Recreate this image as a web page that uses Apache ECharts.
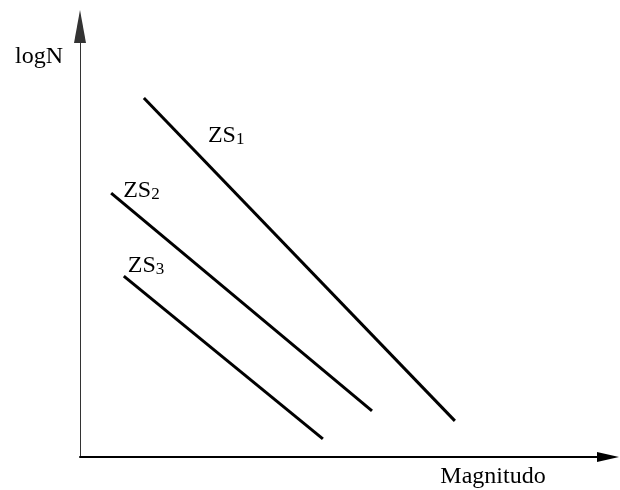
<!DOCTYPE html>
<html>
<head>
<meta charset="utf-8">
<script src="https://cdn.jsdelivr.net/npm/echarts@6/dist/echarts.min.js"></script>
<style>
  html, body { margin: 0; padding: 0; background: #fff; }
  #chart { width: 620px; height: 490px; }
</style>
</head>
<body>
<div id="chart"></div>
<script>
// Gutenberg–Richter style lines for three seismic source zones
const zoneNames = ['ZS', 'ZS', 'ZS'];
const zoneIndex = ['1', '2', '3'];
// [magnitude, logN] at the start and end of each zone line
const zs1 = [[1.21, 8.34], [7.10, 0.84]];
const zs2 = [[0.59, 6.13], [5.53, 1.07]];
const zs3 = [[0.83, 4.20], [4.60, 0.42]];
const axisTitles = { x: 'Magnitudo', y: 'logN' };

const FONT = '"Liberation Serif", "Times New Roman", serif';
const labelOffsets = [[64, 38], [12, -2], [4, -10]];

function zoneSeries(points, i) {
  return {
    type: 'line',
    silent: true,
    symbol: 'circle',
    symbolSize: 0,
    lineStyle: { color: '#000', width: 3, cap: 'butt' },
    itemStyle: { color: '#000' },
    data: points.map((p, k) => ({
      value: p,
      label: k === 0 ? {
        show: true,
        position: labelOffsets[i],
        align: 'left',
        verticalAlign: 'middle',
        formatter: '{a|' + zoneNames[i] + '}{b|' + zoneIndex[i] + '}',
        rich: {
          a: { fontFamily: FONT, fontSize: 24, color: '#000', verticalAlign: 'bottom' },
          b: { fontFamily: FONT, fontSize: 17, color: '#000', verticalAlign: 'bottom' }
        }
      } : { show: false }
    }))
  };
}

const chart = echarts.init(document.getElementById('chart'), null, { renderer: 'canvas' });
chart.setOption({
  animation: false,
  backgroundColor: '#fff',
  grid: { left: 80, right: 12, top: 26.5, bottom: 33, containLabel: false, outerBoundsMode: 'none' },
  xAxis: {
    type: 'value', min: 0, max: 10,
    name: axisTitles.x,
    nameLocation: 'end',
    nameGap: -115,
    nameTextStyle: {
      fontFamily: FONT, fontSize: 24, color: '#000',
      align: 'center', verticalAlign: 'top', lineHeight: 40
    },
    axisLine: {
      show: true,
      symbol: ['none', 'triangle'],
      symbolSize: [10, 22],
      lineStyle: { color: '#000', width: 2 }
    },
    axisTick: { show: false },
    axisLabel: { show: false },
    splitLine: { show: false }
  },
  yAxis: {
    type: 'value', min: 0, max: 10,
    name: axisTitles.y,
    nameLocation: 'end',
    nameGap: -30.5,
    nameTextStyle: {
      fontFamily: FONT, fontSize: 24, color: '#000',
      align: 'right', verticalAlign: 'middle', padding: [0, 17, 0, 0]
    },
    axisLine: {
      show: true,
      symbol: ['none', 'triangle'],
      symbolSize: [12, 33],
      lineStyle: { color: '#333', width: 1 }
    },
    axisTick: { show: false },
    axisLabel: { show: false },
    splitLine: { show: false }
  },
  series: [zoneSeries(zs1, 0), zoneSeries(zs2, 1), zoneSeries(zs3, 2)]
});
</script>
</body>
</html>
